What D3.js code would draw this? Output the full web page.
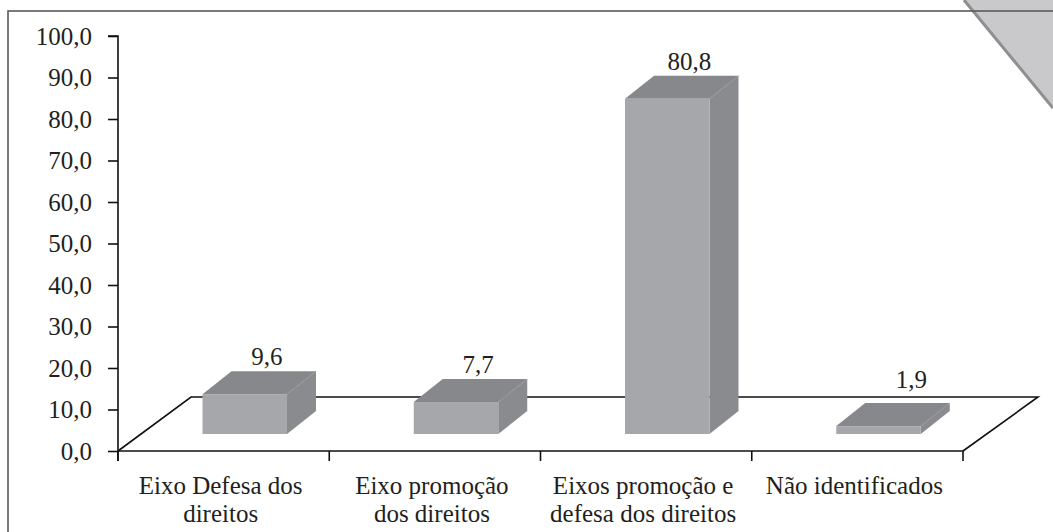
<!DOCTYPE html>
<html><head><meta charset="utf-8">
<script src="https://cdn.jsdelivr.net/npm/d3@7"></script>
<style>
html,body{margin:0;padding:0;background:#fff;}
#wrap{position:relative;width:1053px;height:532px;overflow:hidden;}
svg{display:block;position:absolute;left:0;top:0;}
.lbl{position:absolute;font-family:"Liberation Serif","Times New Roman",serif;font-size:25px;line-height:25px;color:#231f20;white-space:nowrap;}
</style>
</head><body>
<div id="wrap"></div>
<script>
const categories = [["Eixo Defesa dos","direitos"],["Eixo promoção","dos direitos"],["Eixos promoção e","defesa dos direitos"],["Não identificados"]];
const values = [9.6, 7.7, 80.8, 1.9];
const valueLabels = ["9,6", "7,7", "80,8", "1,9"];
const yTicks = [0,10,20,30,40,50,60,70,80,90,100];

const W = 1053, H = 532;
const wrap = d3.select("#wrap");
const svg = wrap.append("svg").attr("width", W).attr("height", H);
const BASE = 21; // baseline offset inside a 25px line box

function label(px, baselineY, text, anchor) {
  const tx = anchor === "middle" ? "-50%" : anchor === "end" ? "-100%" : "0";
  wrap.append("div").attr("class", "lbl")
    .style("left", px + "px").style("top", (baselineY - BASE) + "px")
    .style("transform", `translateX(${tx})`)
    .style("text-align", anchor === "middle" ? "center" : "left")
    .text(text);
}

// page corner decoration
svg.append("polygon").attr("points", "964,0 1053,0 1053,108").attr("fill", "#c9c9cb");
svg.append("line").attr("x1", 964).attr("y1", 0).attr("x2", 1053).attr("y2", 108)
  .attr("stroke", "#8f8f91").attr("stroke-width", 3);

// frame
svg.append("rect").attr("x", 8).attr("y", 11).attr("width", 1100).attr("height", 600)
  .attr("fill", "none").attr("stroke", "#5a5a5a").attr("stroke-width", 1.6);

const idx = categories.map((d, i) => i);
const x = d3.scaleBand().domain(idx).range([118, 963]);
const y = d3.scaleLinear().domain([0, 100]).range([451, 36]);
const bw = x.bandwidth();

// floor parallelogram
const fdx = 73, fdy = -54;
const floor = d3.path();
floor.moveTo(118, y(0)); floor.lineTo(118 + fdx, y(0) + fdy);
floor.lineTo(963 + fdx + 2, y(0) + fdy); floor.lineTo(963, y(0));
svg.append("path").attr("d", floor.toString()).attr("fill", "none")
  .attr("stroke", "#111").attr("stroke-width", 1.6);

// y axis (lines via d3 axis, labels as HTML text)
const fmt = d => d3.format(".1f")(d).replace(".", ",");
const yAxis = d3.axisLeft(y).tickValues(yTicks).tickSize(10).tickFormat("");
const ga = svg.append("g").attr("transform", "translate(118,0)").call(yAxis);
ga.select(".domain").attr("stroke", "#111").attr("stroke-width", 1.6).attr("d", "M-10,36H0V461");
ga.selectAll(".tick line").attr("stroke", "#111").attr("stroke-width", 1.6);
ga.selectAll(".tick text").remove();
yTicks.forEach(t => label(92, y(t) + 8.5, fmt(t), "end"));

// x axis
const xAxis = d3.axisBottom(x).tickSize(0).tickFormat("");
const gx = svg.append("g").attr("transform", `translate(0,${y(0)})`).call(xAxis);
gx.select(".domain").attr("stroke", "#111").attr("stroke-width", 1.6).attr("d", "M118,0H963");
gx.selectAll(".tick").remove();
const bounds = idx.map(i => x(i)).concat([x(idx[idx.length - 1]) + bw]);
svg.selectAll("line.xt").data(bounds).enter().append("line")
  .attr("x1", d => d).attr("x2", d => d).attr("y1", y(0)).attr("y2", y(0) + 10)
  .attr("stroke", "#111").attr("stroke-width", 1.6);

// category labels
categories.forEach((lines, i) => {
  lines.forEach((l, j) => label(x(i) + bw / 2 - 3, 494 + j * 28, l, "middle"));
});

// bars
const shiftY = -17, barW = bw * 0.4, ddx = 29, ddy = -23;
idx.forEach(i => {
  const x0 = x(i) + bw * 0.4, x1 = x0 + barW;
  const yb = y(0) + shiftY, yt = y(values[i]) + shiftY;
  const g = svg.append("g");
  g.append("polygon").attr("points", `${x1},${yt} ${x1 + ddx},${yt + ddy} ${x1 + ddx},${yb + ddy} ${x1},${yb}`)
    .attr("fill", "#8a8b8e");
  g.append("polygon").attr("points", `${x0},${yt} ${x0 + ddx},${yt + ddy} ${x1 + ddx},${yt + ddy} ${x1},${yt}`)
    .attr("fill", "#87888b");
  g.append("line").attr("x1", x1).attr("y1", yt).attr("x2", x1 + ddx).attr("y2", yt + ddy)
    .attr("stroke", "#9a9b9e").attr("stroke-width", 1);
  g.append("rect").attr("x", x0).attr("y", yt).attr("width", barW).attr("height", yb - yt)
    .attr("fill", "#a6a7aa");
  // label: above the top face; very short bars push the label further back along the depth diagonal
  const natural = yt + ddy - 6;
  const clamp = y(4) + shiftY + ddy - 6;
  const ly = Math.min(natural, clamp);
  const extra = natural - ly;
  label(x0 + barW / 2 + 22 + extra * ddx / -ddy, ly, valueLabels[i], "middle");
});
</script>
</body></html>
